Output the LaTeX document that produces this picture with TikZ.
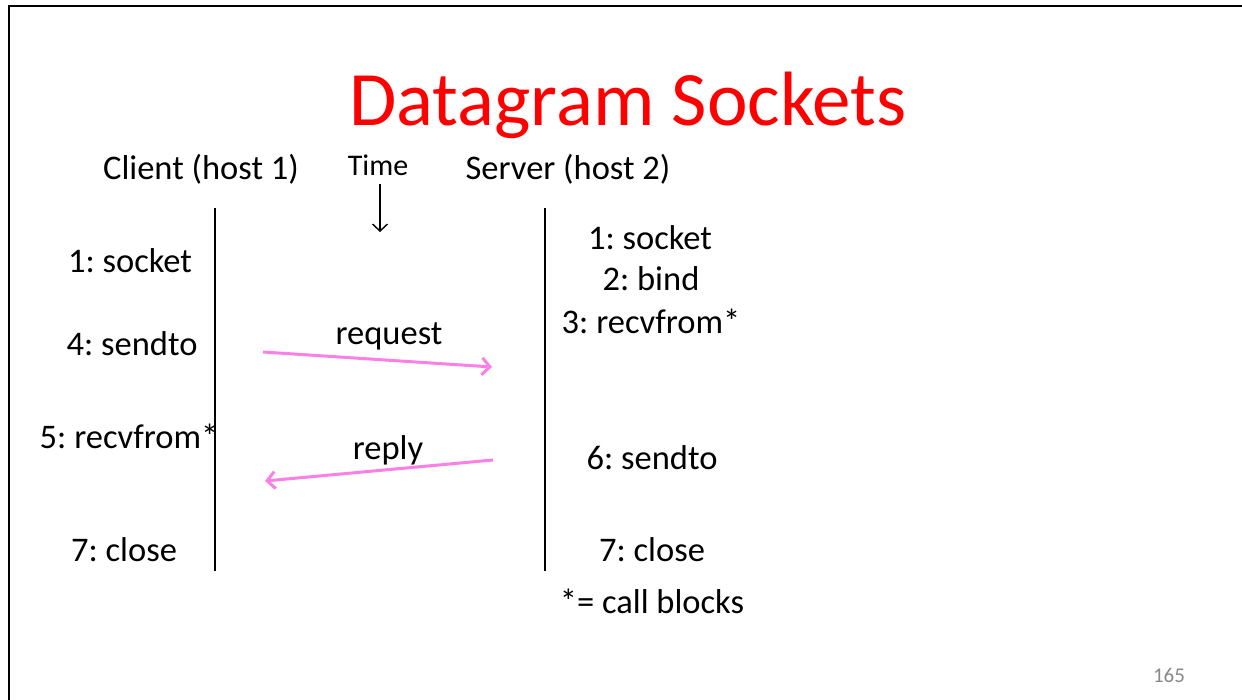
\documentclass[tikz,border=0pt]{standalone}
\usepackage{fontspec}
\setmainfont{Carlito}
\definecolor{msgpink}{RGB}{250,128,230}
\definecolor{pagegray}{RGB}{137,137,137}
\tikzset{
  txt/.style={anchor=base, inner sep=0pt, font=\fontsize{34.5}{40}\selectfont},
  head/.style={txt},
  msg/.style={msgpink, line width=3pt, -{Straight Barb[length=8pt,width=17pt]}},
}
\usetikzlibrary{arrows.meta}
\begin{document}
\frenchspacing
\begin{tikzpicture}[x=1pt,y=-1pt]
		\clip (0,0) rectangle (1242,700);
		\fill[white] (0,0) rectangle (1242,700);
		\draw[line width=2.5pt] (9,6) rectangle (1270,730);

		\node[anchor=base, inner sep=0pt, red, font=\fontsize{77}{80}\selectfont] (title) at (628,126) {Datagram Sockets};
		\node[head] (client) at (201,180) {Client (host 1)};
		\node[head, font=\fontsize{30}{34}\selectfont] (time) at (378,176) {Time};
		\node[head] (server) at (568,180) {Server (host 2)};
		\draw[line width=1.4pt, -{Straight Barb[length=7pt,width=15pt]}] (380,184) -- (380,232);

		% time lines
		\draw[line width=1.3pt] (215,208) -- (215,571);
		\draw[line width=1.3pt] (545,208) -- (545,571);

		% client calls
		\node[txt] (csocket) at (130,273) {1: socket};
		\node[txt] (csendto) at (132,356) {4: sendto};
		\node[txt] (crecv)   at (129,448) {5: recvfrom*};
		\node[txt] (cclose)  at (124,561) {7: close};

		% server calls
		\node[txt] (ssocket) at (650,250) {1: socket};
		\node[txt] (sbind)   at (651,291) {2: bind};
		\node[txt] (srecv)   at (651,334) {3: recvfrom*};
		\node[txt] (ssendto) at (652,469) {6: sendto};
		\node[txt] (sclose)  at (652,561) {7: close};
		\node[txt] (blocks)  at (652,613) {*= call blocks};

		% messages
		\coordinate (reqa) at (263,352);
		\coordinate (reqb) at (492,367);
		\coordinate (repa) at (493,460);
		\coordinate (repb) at (265,481);
		\draw[msg] (reqa) -- (reqb);
		\draw[msg] (repa) -- (repb);
		\node[txt] (request) at (389,345) {request};
		\node[txt] (reply)   at (388,459) {reply};

		\node[anchor=base, inner sep=0pt, pagegray, font=\fontsize{21}{24}\selectfont] (page) at (1169,682) {165};
\end{tikzpicture}
\end{document}
